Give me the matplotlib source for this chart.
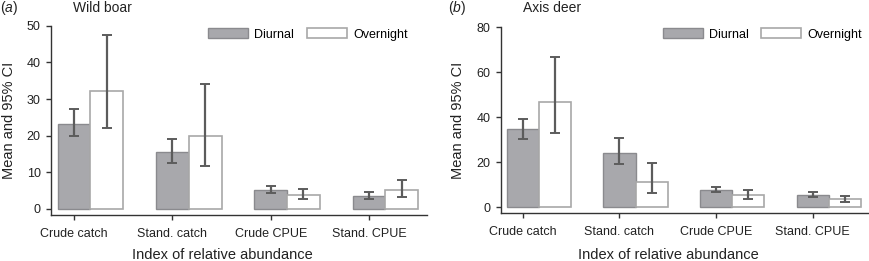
import matplotlib
matplotlib.use("Agg")
import matplotlib.pyplot as plt
import numpy as np

plt.rcParams['font.family'] = ['Liberation Sans', 'DejaVu Sans']
plt.rcParams['mathtext.fontset'] = 'custom'
plt.rcParams['mathtext.rm'] = 'Liberation Sans'
plt.rcParams['mathtext.it'] = 'Liberation Sans:italic'

indices = ["Crude catch", "Stand. catch", "Crude CPUE", "Stand. CPUE"]

# wild boar
boar_day = [23.3, 15.5, 5.2, 3.6]
boar_day_lo = [20.0, 12.6, 4.3, 2.8]
boar_day_hi = [27.3, 19.2, 6.2, 4.5]
boar_night = [32.3, 20.0, 3.8, 5.1]
boar_night_lo = [22.1, 11.7, 2.6, 3.4]
boar_night_hi = [47.4, 34.1, 5.4, 8.0]

# axis deer
deer_day = [34.6, 24.0, 7.6, 5.5]
deer_day_lo = [30.4, 19.0, 6.5, 4.5]
deer_day_hi = [39.3, 30.6, 8.8, 6.8]
deer_night = [46.9, 11.0, 5.5, 3.4]
deer_night_lo = [32.8, 6.2, 3.7, 2.4]
deer_night_hi = [67.0, 19.7, 7.7, 5.0]

W, H = 869, 261
fig = plt.figure(figsize=(W / 100, H / 100), dpi=100)


def panel(rect, day, dlo, dhi, night, nlo, nhi, ylim, yticks, xlim, leg_xy, lab_xy):
    x0, x1, top, bot = rect
    ax = fig.add_axes([x0 / W, (H - bot) / H, (x1 - x0) / W, (bot - top) / H])
    x = np.arange(len(indices))
    w = 1 / 3
    day = np.array(day)
    night = np.array(night)
    ax.bar(x, day, w, color='#a8a8ac', edgecolor='#8a8a8e', linewidth=1.0, label='Diurnal')
    ax.bar(x + w, night, w, color='white', edgecolor='#a8a8a8', linewidth=1.2, label='Overnight')
    ebkw = dict(fmt='none', ecolor='#5c5c5c', elinewidth=1.6, capsize=3.5, capthick=1.4)
    ax.errorbar(x, day, yerr=[day - np.array(dlo), np.array(dhi) - day], **ebkw)
    ax.errorbar(x + w, night, yerr=[night - np.array(nlo), np.array(nhi) - night], **ebkw)
    ax.set_xlim(*xlim)
    ax.set_ylim(*ylim)
    ax.set_yticks(yticks)
    ax.set_xticks(x)
    ax.set_xticklabels(indices)
    for s in ['top', 'right']:
        ax.spines[s].set_visible(False)
    for s in ['left', 'bottom']:
        ax.spines[s].set_color('#333333')
        ax.spines[s].set_linewidth(1.0)
    ax.tick_params(axis='both', colors='#333333', labelcolor='#222222', labelsize=9,
                   length=3.5, width=1.0)
    ax.tick_params(axis='y', pad=4)
    ax.tick_params(axis='x', pad=6)
    ax.set_ylabel("Mean and 95% CI", fontsize=10.5, color='#222222')
    ax.yaxis.set_label_coords(lab_xy[0], 0.5)
    ax.set_xlabel("Index of relative abundance", fontsize=10.5, color='#222222')
    ax.xaxis.set_label_coords(0.456, lab_xy[1])
    ax.legend(loc='center left', bbox_to_anchor=leg_xy, ncol=2, frameon=False,
              fontsize=9, handlelength=3.2, handleheight=0.8, handletextpad=0.5,
              columnspacing=1.0, borderpad=0, borderaxespad=0)
    return ax


panel((51, 427, 25.7, 215), boar_day, boar_day_lo, boar_day_hi,
      boar_night, boar_night_lo, boar_night_hi,
      (-1.64, 50), [0, 10, 20, 30, 40, 50], (-0.235, 3.59), (0.4176, 0.9535),
      (-0.094, -0.172))
panel((500.7, 868, 27.3, 212.7), deer_day, deer_day_lo, deer_day_hi,
      deer_night, deer_night_lo, deer_night_hi,
      (-2.5, 80), [0, 20, 40, 60, 80], (-0.228, 3.571), (0.441, 0.961),
      (-0.097, -0.188))

fig.text(0 / W, 1 - 12 / H, r"($a$)", fontsize=10, va='baseline', color='#222222')
fig.text(72.7 / W, 1 - 12 / H, "Wild boar", fontsize=10, va='baseline', color='#222222')
fig.text(447.7 / W, 1 - 12 / H, r"($b$)", fontsize=10, va='baseline', color='#222222')
fig.text(523.3 / W, 1 - 12 / H, "Axis deer", fontsize=10, va='baseline', color='#222222')

fig.savefig("out.png", dpi=100)
